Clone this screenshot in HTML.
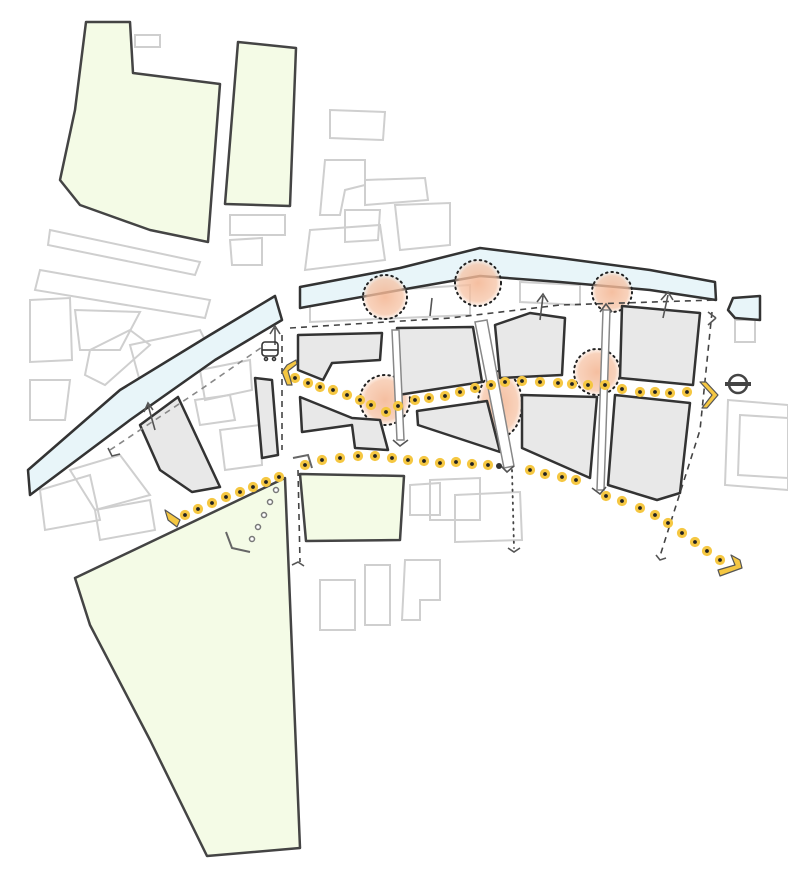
<!DOCTYPE html>
<html><head><meta charset="utf-8"><style>
html,body{margin:0;padding:0;background:#fff}
svg{display:block}
</style></head><body>
<svg width="788" height="877" viewBox="0 0 788 877" xmlns="http://www.w3.org/2000/svg">
<defs>
<radialGradient id="og"><stop offset="0" stop-color="#f3b38f" stop-opacity="0.85"/><stop offset="0.8" stop-color="#f6c3a5" stop-opacity="0.75"/><stop offset="1" stop-color="#f9d7c2" stop-opacity="0.3"/></radialGradient>
</defs>
<rect width="788" height="877" fill="#fff"/>
<g fill="none" stroke="#cfcfcf" stroke-width="2">
<rect x="135" y="35" width="25" height="12"/>
<path d="M330 110 L385 112 L383 140 L330 138Z"/>
<path d="M325 160 L365 160 L365 185 L345 190 L340 215 L320 215Z"/>
<path d="M365 180 L425 178 L428 200 L365 205Z"/>
<path d="M345 210 L380 210 L378 240 L345 242Z"/>
<path d="M395 205 L450 203 L450 245 L400 250Z"/>
<path d="M310 230 L380 225 L385 260 L305 270Z"/>
<rect x="230" y="215" width="55" height="20"/>
<path d="M230 240 L262 238 L262 265 L232 265Z"/>
<path d="M50 230 L200 262 L195 275 L48 245Z"/>
<path d="M40 270 L210 300 L205 318 L35 290Z"/>
<path d="M30 300 L70 298 L72 360 L30 362Z"/>
<path d="M75 310 L140 312 L120 350 L80 350Z"/>
<path d="M90 350 L130 330 L150 345 L105 385 L85 375Z"/>
<path d="M130 345 L200 330 L210 350 L145 400Z"/>
<path d="M30 380 L70 380 L65 420 L30 420Z"/>
<path d="M200 370 L250 360 L252 390 L205 400Z"/>
<path d="M195 400 L230 395 L235 420 L200 425Z"/>
<path d="M220 430 L260 425 L262 465 L225 470Z"/>
<path d="M40 490 L90 475 L100 520 L45 530Z"/>
<path d="M70 470 L120 455 L150 495 L95 510Z"/>
<path d="M95 510 L150 500 L155 530 L100 540Z"/>
<path d="M310 295 L470 285 L470 315 L310 322Z"/>
<path d="M520 282 L580 285 L580 305 L520 302Z"/>
<path d="M430 480 L480 478 L480 520 L430 520Z"/>
<path d="M455 495 L520 492 L522 540 L455 542Z"/>
<path d="M410 485 L440 483 L440 515 L410 515Z"/>
<rect x="320" y="580" width="35" height="50"/>
<rect x="365" y="565" width="25" height="60"/>
<path d="M405 560 L440 560 L440 600 L420 600 L420 620 L402 620Z"/>
<rect x="735" y="320" width="20" height="22"/>
<path d="M728 400 L788 405 L788 490 L725 485Z"/>
<path d="M740 415 L788 418 L788 478 L738 475Z"/>
</g>
<g fill="#f4fbe6" stroke="#444" stroke-width="2.5" stroke-linejoin="round">
<path d="M86 22 L130 22 L133 73 L220 84 L208 242 L150 230 L80 205 L60 180 L75 110 Z"/>
<path d="M238 42 L296 48 L290 206 L225 204 Z"/>
<path d="M75 578 L285 478 L300 848 L207 856 L150 740 L90 625 Z"/>
<path d="M300 474 L404 476 L400 540 L306 541 Z"/>
</g>
<g fill="#e8f5f9" stroke="#333" stroke-width="2.5" stroke-linejoin="round">
<path d="M28 470 L120 390 L210 335 L275 296 L282 320 L215 360 L130 420 L30 495 Z"/>
<path d="M300 287 L400 268 L480 248 L560 258 L650 270 L715 282 L716 300 L650 290 L560 282 L480 276 L400 290 L300 308 Z"/>
<path d="M733 298 L760 296 L760 320 L735 318 L728 310 Z"/>
</g>
<g fill="url(#og)" stroke="#222" stroke-width="2" stroke-dasharray="1.5 4" stroke-linecap="round">
<circle cx="385" cy="297" r="22"/>
<circle cx="478" cy="283" r="23"/>
<circle cx="612" cy="292" r="20"/>
<circle cx="385" cy="400" r="25"/>
<ellipse cx="500" cy="404" rx="22" ry="33"/>
<circle cx="597" cy="372" r="23"/>
</g>
<g fill="#e8e8e8" stroke="#333" stroke-width="2.5" stroke-linejoin="round">
<path d="M298 335 L382 333 L380 360 L332 363 L323 380 L298 370 Z"/>
<path d="M397 328 L473 327 L482 382 L398 395 Z"/>
<path d="M495 325 L530 313 L565 318 L562 375 L500 378 Z"/>
<path d="M622 306 L700 313 L693 385 L620 378 Z"/>
<path d="M300 397 L352 418 L380 420 L388 450 L355 448 L352 425 L302 432 Z"/>
<path d="M417 411 L487 401 L500 452 L418 425 Z"/>
<path d="M522 395 L597 397 L590 478 L522 448 Z"/>
<path d="M615 395 L690 403 L680 493 L657 500 L608 485 Z"/>
<path d="M140 425 L178 397 L220 487 L192 492 L160 470 Z"/>
<path d="M255 378 L272 380 L278 455 L262 458 Z"/>
</g>
<g fill="#fff" stroke="#888" stroke-width="1.5">
<path d="M392 330 L399 330 L404 440 L397 440 Z"/>
<path d="M475 322 L487 320 L514 466 L504 468 Z"/>
<path d="M603 310 L610 310 L604 490 L597 490 Z"/>
</g>
<g fill="none" stroke="#444" stroke-width="1.6" stroke-dasharray="6 5">
<path d="M290 328 L450 318 L560 305 L715 300"/>
<path d="M282 335 L282 450"/>
<path d="M298 470 L300 562"/>
<path d="M712 312 L700 430 L660 556"/>
<path d="M110 450 L200 390 L265 345" stroke="#888"/>
</g>
<g fill="none" stroke="#444" stroke-width="1.8" stroke-dasharray="1.5 5" stroke-linecap="round">
<path d="M512 470 L514 548"/>
</g>
<g fill="none" stroke="#555" stroke-width="1.6">
<path d="M275 345 L275 328 M270 334 L275 326 L280 334"/>
<path d="M155 430 L148 405 M144 412 L148 403 L153 410"/>
<path d="M540 320 L543 296 M537 302 L543 294 L548 302"/>
<path d="M663 318 L668 295 M661 300 L668 292 L673 300"/>
<path d="M430 316 L432 298"/>
<path d="M393 440 L400 446 L408 440"/>
<path d="M600 312 L606 304 L612 312"/>
<path d="M592 488 L600 494 L606 487"/>
<path d="M500 465 L507 472 L514 466"/>
<path d="M108 448 L112 456 L120 454"/>
<path d="M292 565 L298 562 L304 566"/>
<path d="M656 555 L660 560 L666 558"/>
<path d="M708 312 L716 318 M708 325 L716 318"/>
<path d="M508 548 L514 552 L520 548"/>
</g>
<g fill="#222" stroke="#f5c742" stroke-width="3.2">
<circle cx="295" cy="378" r="3.5"/><circle cx="308" cy="383" r="3.5"/><circle cx="320" cy="387" r="3.5"/><circle cx="333" cy="390" r="3.5"/><circle cx="347" cy="395" r="3.5"/><circle cx="360" cy="400" r="3.5"/><circle cx="371" cy="405" r="3.5"/><circle cx="386" cy="412" r="3.5"/><circle cx="398" cy="406" r="3.5"/><circle cx="415" cy="400" r="3.5"/><circle cx="429" cy="398" r="3.5"/><circle cx="445" cy="396" r="3.5"/><circle cx="460" cy="392" r="3.5"/><circle cx="475" cy="388" r="3.5"/><circle cx="491" cy="385" r="3.5"/><circle cx="505" cy="382" r="3.5"/><circle cx="522" cy="381" r="3.5"/><circle cx="540" cy="382" r="3.5"/><circle cx="558" cy="383" r="3.5"/><circle cx="572" cy="384" r="3.5"/><circle cx="588" cy="385" r="3.5"/><circle cx="605" cy="385" r="3.5"/><circle cx="622" cy="389" r="3.5"/><circle cx="640" cy="392" r="3.5"/><circle cx="655" cy="392" r="3.5"/><circle cx="670" cy="393" r="3.5"/><circle cx="687" cy="392" r="3.5"/>
<circle cx="305" cy="465" r="3.5"/><circle cx="322" cy="460" r="3.5"/><circle cx="340" cy="458" r="3.5"/><circle cx="358" cy="456" r="3.5"/><circle cx="375" cy="456" r="3.5"/><circle cx="392" cy="458" r="3.5"/><circle cx="408" cy="460" r="3.5"/><circle cx="424" cy="461" r="3.5"/><circle cx="440" cy="463" r="3.5"/><circle cx="456" cy="462" r="3.5"/><circle cx="472" cy="464" r="3.5"/><circle cx="488" cy="465" r="3.5"/><circle cx="530" cy="470" r="3.5"/><circle cx="545" cy="474" r="3.5"/><circle cx="562" cy="477" r="3.5"/><circle cx="576" cy="480" r="3.5"/><circle cx="606" cy="496" r="3.5"/><circle cx="622" cy="501" r="3.5"/><circle cx="640" cy="508" r="3.5"/><circle cx="655" cy="515" r="3.5"/><circle cx="668" cy="523" r="3.5"/><circle cx="682" cy="533" r="3.5"/><circle cx="695" cy="542" r="3.5"/><circle cx="707" cy="551" r="3.5"/><circle cx="720" cy="560" r="3.5"/>
<circle cx="185" cy="515" r="3.5"/><circle cx="198" cy="509" r="3.5"/><circle cx="212" cy="503" r="3.5"/><circle cx="226" cy="497" r="3.5"/><circle cx="240" cy="492" r="3.5"/><circle cx="253" cy="487" r="3.5"/><circle cx="266" cy="482" r="3.5"/><circle cx="279" cy="477" r="3.5"/>
</g>
<circle cx="499" cy="466" r="3" fill="#333"/>
<g fill="#fff" stroke="#777" stroke-width="1.5">
<circle cx="276" cy="490" r="2.5"/><circle cx="270" cy="502" r="2.5"/><circle cx="264" cy="515" r="2.5"/><circle cx="258" cy="527" r="2.5"/><circle cx="252" cy="539" r="2.5"/>
</g>
<g fill="#f5c742" stroke="#555" stroke-width="1.2" stroke-linejoin="round">
<path d="M700 382 L712 395 L702 408 L707 408 L718 395 L706 382 Z"/>
<path d="M165 510 L180 520 L177 527 L168 520 Z"/>
<path d="M287 365 L296 360 L297 364 L288 371 L292 385 L287 385 L282 372 Z"/>
<path d="M718 570 L735 565 L731 555 L740 560 L742 568 L720 576 Z"/>
</g>
<path d="M226 532 L232 548 L250 552" fill="none" stroke="#666" stroke-width="2"/>
<path d="M293 458 L308 455 L312 468" fill="none" stroke="#666" stroke-width="2"/>
<g fill="none" stroke="#333" stroke-width="1.6">
<rect x="262" y="342" width="16" height="14" rx="3"/>
<line x1="262" y1="350" x2="278" y2="350"/>
<circle cx="266" cy="359" r="1.5"/><circle cx="274" cy="359" r="1.5"/>
</g>
<g fill="none" stroke="#444" stroke-width="2.5">
<circle cx="738" cy="384" r="9"/>
<line x1="725" y1="384" x2="751" y2="384" stroke-width="4"/>
</g>
</svg>
</body></html>
